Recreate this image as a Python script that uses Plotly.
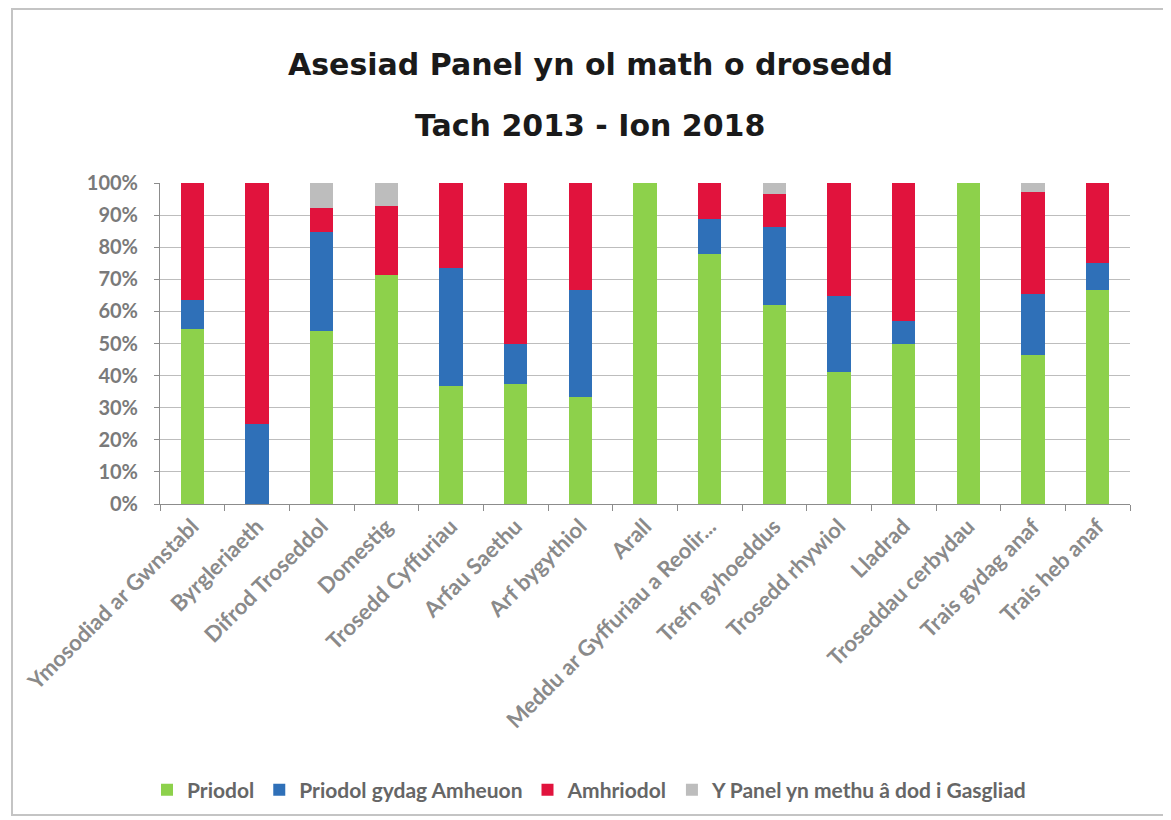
import plotly.graph_objects as go

categories = [
    "Ymosodiad ar Gwnstabl", "Byrgleriaeth", "Difrod Troseddol", "Domestig",
    "Trosedd Cyffuriau", "Arfau Saethu", "Arf bygythiol", "Arall",
    "Meddu ar Gyffuriau a Reolir...", "Trefn gyhoeddus", "Trosedd rhywiol",
    "Lladrad", "Troseddau cerbydau", "Trais gydag anaf", "Trais heb anaf",
]
priodol = [54.5, 0, 53.8, 71.4, 36.8, 37.5, 33.3, 100, 77.8, 62.1, 41.2, 50.0, 100, 46.5, 66.7]
priodol_amheuon = [9.1, 25.0, 30.8, 0, 36.8, 12.5, 33.3, 0, 11.1, 24.1, 23.5, 7.1, 0, 19.0, 8.3]
amhriodol = [36.4, 75.0, 7.7, 21.4, 26.3, 50.0, 33.3, 0, 11.1, 10.4, 35.3, 42.9, 0, 31.7, 25.0]
methu = [0, 0, 7.7, 7.1, 0, 0, 0, 0, 0, 3.4, 0, 0, 0, 2.8, 0]

series_names = ["Priodol", "Priodol gydag Amheuon", "Amhriodol",
                "Y Panel yn methu â dod i Gasgliad"]
series_values = [priodol, priodol_amheuon, amhriodol, methu]
colors = ["#8DD14B", "#2F70B8", "#E1133D", "#BDBDBD"]
y_ticks = [0, 10, 20, 30, 40, 50, 60, 70, 80, 90, 100]
y_ticktext = ["0%", "10%", "20%", "30%", "40%", "50%", "60%", "70%", "80%", "90%", "100%"]

fig = go.Figure()
for name, vals, col in zip(series_names, series_values, colors):
    fig.add_trace(go.Bar(
        x=categories, y=vals, name=name,
        marker=dict(color=col, line=dict(width=0)),
    ))

OFF = 8  # browser body margin
W, H = 1163, 812
L, T = 160 - OFF, 183 - OFF
R = W - (1130 - OFF)
B = H - (504 - OFF)
pw, ph = W - L - R, H - T - B

def px_to_paper_x(px):
    return (px - OFF - L) / pw

def px_to_paper_y(py):
    return (H - B - (py - OFF)) / ph

fig.update_layout(
    width=W, height=H,
    barmode="stack",
    bargap=0.64,
    margin=dict(l=L, r=R, t=T, b=B, pad=0),
    paper_bgcolor="white",
    plot_bgcolor="white",
    font=dict(family="Lato, Arial, sans-serif", color="#7F7F7F"),
    showlegend=True,
    legend=dict(
        orientation="h", xref="container", yref="container",
        x=0.5, xanchor="center", y=1 - (790 - OFF) / H, yanchor="middle",
        font=dict(size=21, color="#666666", family="Lato, sans-serif", weight="bold"),
        itemwidth=30, traceorder="normal",
    ),
    xaxis=dict(
        tickangle=-45,
        tickfont=dict(size=22, color="#8A8A8A", weight="bold"),
        showline=True, linecolor="#8C8C8C", linewidth=1,
        ticks="outside", ticklen=6, tickcolor="#8C8C8C", tickson="boundaries",
        showgrid=False,
    ),
    yaxis=dict(
        range=[0, 100], tickmode="array", tickvals=y_ticks, ticktext=y_ticktext,
        tickfont=dict(size=20, color="#7A7A7A", family="Lato, Arial, sans-serif", weight="bold"),
        showline=True, linecolor="#8C8C8C", linewidth=1,
        ticks="outside", ticklen=5, tickcolor="#8C8C8C",
        showgrid=True, gridcolor="#BDBDBD", gridwidth=1,
        zeroline=False, ticklabelstandoff=12,
    ),
    annotations=[
        dict(text="Asesiad Panel yn ol math o drosedd", xref="paper", yref="paper",
             x=px_to_paper_x(590), y=px_to_paper_y(64), showarrow=False,
             xanchor="center", yanchor="middle",
             font=dict(size=30, color="#1A1A1A", family="DejaVu Sans, Arial, sans-serif", weight="bold")),
        dict(text="Tach 2013 - Ion 2018", xref="paper", yref="paper",
             x=px_to_paper_x(590), y=px_to_paper_y(125), showarrow=False,
             xanchor="center", yanchor="middle",
             font=dict(size=30, color="#1A1A1A", family="DejaVu Sans, Arial, sans-serif", weight="bold")),
    ],
    shapes=[
        dict(type="rect", xref="paper", yref="paper",
             x0=px_to_paper_x(12), x1=px_to_paper_x(1166),
             y0=px_to_paper_y(815), y1=px_to_paper_y(9),
             line=dict(color="#C4C4C4", width=2), fillcolor="rgba(0,0,0,0)", layer="below"),
    ],
)

fig.write_html("out.html")
